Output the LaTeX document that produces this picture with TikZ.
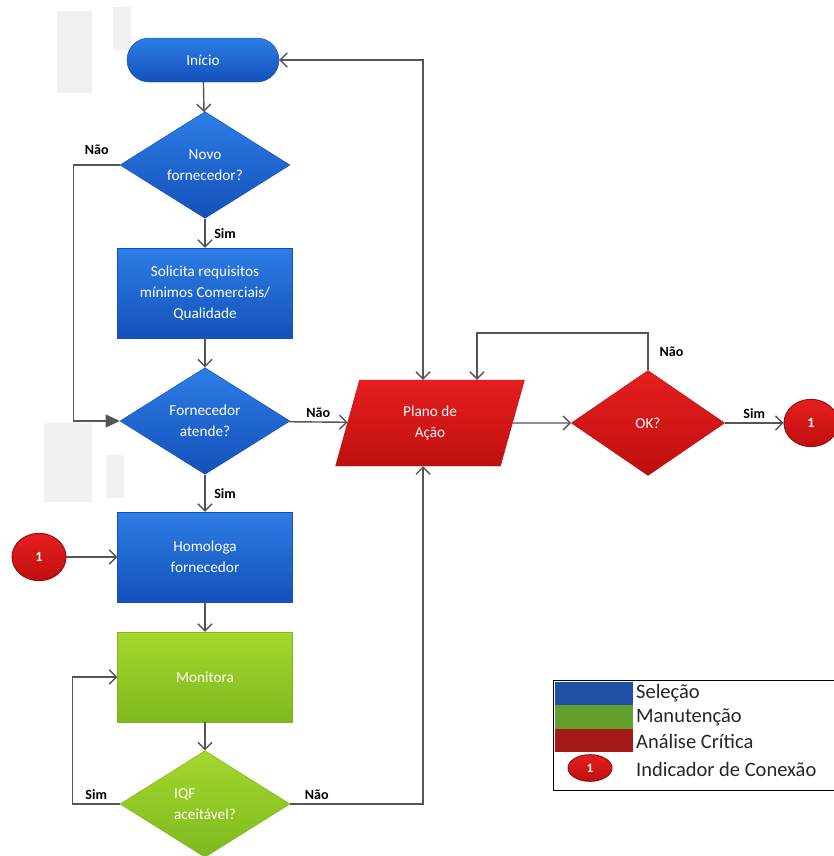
\documentclass[tikz,border=0pt]{standalone}
\usepackage{fontspec}
\setmainfont{Carlito}
\usetikzlibrary{shapes.geometric,arrows.meta,positioning}
\definecolor{azul}{RGB}{45,125,230}
\definecolor{azulesc}{RGB}{20,80,185}
\definecolor{verde}{RGB}{165,215,45}
\definecolor{verdeesc}{RGB}{125,185,30}
\definecolor{vermelho}{RGB}{230,30,30}
\definecolor{vermesc}{RGB}{190,15,15}
\definecolor{linha}{RGB}{85,85,85}
\definecolor{legazul}{RGB}{30,80,165}
\definecolor{legverde}{RGB}{100,160,45}
\definecolor{legverm}{RGB}{165,25,25}
\definecolor{bloco}{RGB}{240,240,240}
\tikzset{
  azulfill/.style={top color=azul, bottom color=azulesc, draw=azulesc},
  verdefill/.style={top color=verde, bottom color=verdeesc, draw=verdeesc},
  vermfill/.style={top color=vermelho, bottom color=vermesc, draw=vermesc},
  texto/.style={text=white, align=center, font=\fontsize{13}{18}\selectfont},
  caixa/.style={rectangle, texto, minimum width=5.25cm, minimum height=2.7cm},
  inicio/.style={rectangle, rounded corners=0.66cm, texto, azulfill,
    minimum width=4.56cm, minimum height=1.32cm},
  losango/.style={diamond, texto, aspect=1.6, inner sep=0pt,
    minimum width=5.1cm, minimum height=3.2cm},
  plano/.style={trapezium, trapezium left angle=76, trapezium right angle=104,
    trapezium stretches=true, texto, vermfill,
    minimum width=5.67cm, minimum height=2.58cm},
  conector/.style={ellipse, vermfill, draw=vermesc!80!black, line width=0.8pt,
    text=white, font=\fontsize{12}{14}\bfseries,
    minimum width=1.62cm, minimum height=1.42cm},
  rotulo/.style={text=black, font=\fontsize{12}{14}\bfseries\selectfont},
  legtexto/.style={anchor=west, text=black!85, font=\fontsize{17.5}{19}\selectfont},
  traco/.style={draw=linha, line width=1.2pt},
  seta/.style={traco, -{Straight Barb[length=6pt,width=12pt]}}
}
\begin{document}
\begin{tikzpicture}[x=0.03cm,y=-0.03cm]
\useasboundingbox (0,0) rectangle (834,856);
\clip (0,0) rectangle (834,856);
\fill[white] (0,0) rectangle (834,856);
% blocos cinza do fundo
\fill[bloco] (57,11) rectangle (92,93);
\fill[bloco] (113,7) rectangle (131,50);
\fill[bloco] (44,423) rectangle (92,502);
\fill[bloco] (106,455) rectangle (124,498);
% etapas
\node[inicio] (inicio) at (203,60) {Início};
\node[losango, azulfill] (novo) at (205,165) {Novo\\fornecedor?};
\node[caixa, azulfill] (solicita) at (205,293) {Solicita requisitos\\mínimos Comerciais/\\Qualidade};
\node[losango, azulfill] (atende) at (205,421) {Fornecedor\\atende?};
\node[caixa, azulfill] (homologa) at (205,557) {Homologa\\fornecedor};
\node[caixa, verdefill] (monitora) at (205,677) {Monitora};
\node[losango, verdefill, align=left] (iqf) at (205,804) {IQF\\aceitável?};
\node[plano] (plano) at (430,423) {Plano de\\Ação};
\node[losango, vermfill, minimum width=4.6cm, minimum height=3.15cm] (ok) at (648,423) {OK?};
\node[conector] (con1) at (811,423) {1};
\node[conector] (con2) at (39,557) {1};
\coordinate (eixo) at (423,0);
% ligacoes
\draw[seta] (inicio) -- (novo);
\draw[seta] (novo) -- node[rotulo, right=4pt] {Sim} (solicita);
\draw[seta] (solicita) -- (atende);
\draw[seta] (atende) -- node[rotulo, right=4pt] {Sim} (homologa);
\draw[seta] (homologa) -- (monitora);
\draw[seta] (monitora) -- (iqf);
\draw[seta] (con2) -- (homologa);
\draw[traco, -{Triangle[length=12pt,width=11pt]}] (novo.west)
  -- node[rotulo, above=5pt] {Não} ++(-46,0) |- (atende.west);
\draw[seta] (atende) -- node[rotulo, above] {Não} (plano);
\draw[seta] (plano) -- (ok);
\draw[seta] (ok) -- node[rotulo, above] {Sim} (con1);
\coordinate (retorno) at (477,333);
\draw[seta] (ok.north) -- node[rotulo, right=6pt] {Não} (ok.north |- retorno)
  -- (retorno) -- (retorno |- plano.north);
\draw[traco, {Straight Barb[length=6pt,width=12pt]}-{Straight Barb[length=6pt,width=12pt]}]
  (inicio.east) -- (eixo |- inicio.east) -- (eixo |- plano.north);
\draw[seta] (iqf.west) -- node[rotulo, above] {Sim} ++(-47,0) |- (monitora.west);
\draw[seta] (iqf.east) -- node[rotulo, above, pos=0.2] {Não} (eixo |- iqf.east)
  -- (eixo |- plano.south);
% legenda
\draw[black, line width=0.8pt] (553,680) rectangle (845,790);
\fill[legazul] (555,682) rectangle (633,705);
\fill[legverde] (555,705) rectangle (633,729);
\fill[legverm] (555,729) rectangle (633,752);
\node[legtexto] (leg1) at (632,693) {Seleção};
\node[legtexto] (leg2) at (632,717) {Manutenção};
\node[legtexto] (leg3) at (632,741) {Análise Crítica};
\node[conector, minimum width=1.32cm, minimum height=0.8cm,
  font=\fontsize{11}{12}\bfseries] (legcon) at (590,768) {1};
\node[legtexto] (leg4) at (632,769) {Indicador de Conexão};
\end{tikzpicture}
\end{document}
